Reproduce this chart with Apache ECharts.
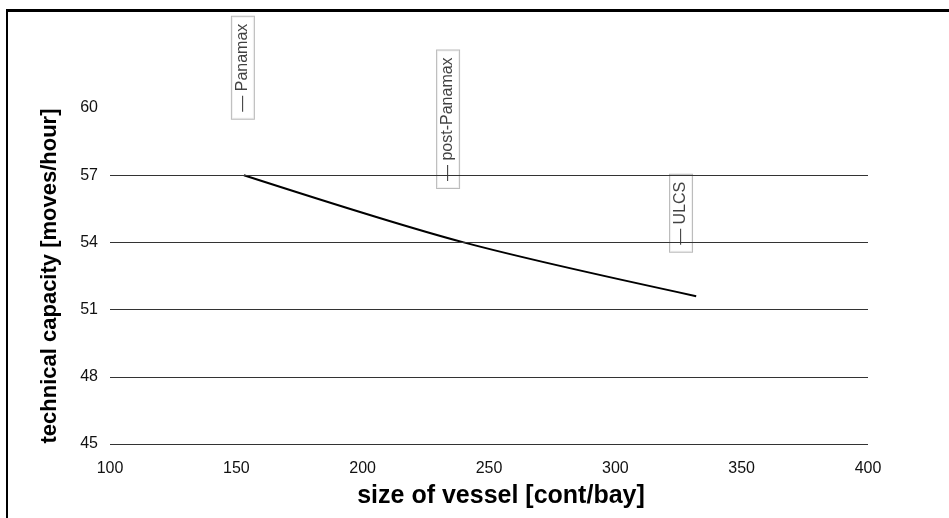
<!DOCTYPE html>
<html>
<head>
    <meta charset="utf-8">
    <title>technical capacity</title>
    <script src="https://cdn.jsdelivr.net/npm/echarts@6/dist/echarts.min.js"></script>
    <style>
        html, body { margin: 0; padding: 0; background: #fff; }
        #frame { position: absolute; left: 6px; top: 9px; width: 943px; height: 509px;
                 border-top: 3px solid #000; border-left: 2px solid #000; box-sizing: border-box; }
        #chart { position: absolute; left: 0; top: 0; width: 949px; height: 518px; }
    </style>
</head>
<body>
<div id="frame"></div>
<div id="chart"></div>
<script>
    // 数据: vessel size [cont/bay] vs technical capacity [moves/hour]
    var vesselSize = [153, 240, 332];
    var capacity = [57, 54, 51.6];
    var gridValues = [45, 48, 51, 54, 57];
    var classNames = ['Panamax', 'post-Panamax', 'ULCS'];
    var labelX = [152.6, 233.8, 326];
    var labelY = [61.8, 59.5, 55.3];

    var lineData = vesselSize.map(function (v, i) { return [v, capacity[i]]; });
    var labelData = classNames.map(function (n, i) { return { name: n, value: [labelX[i], labelY[i]] }; });

    var myChart = echarts.init(document.getElementById('chart'));
    myChart.setOption({
        animation: false,
        grid: { left: 110, right: 81, top: 108, bottom: 74 },
        xAxis: {
            type: 'value',
            min: 100, max: 400, interval: 50,
            name: 'size of vessel [cont/bay]',
            nameLocation: 'middle',
            nameGap: 40,
            nameTextStyle: { fontFamily: 'Liberation Sans', fontSize: 25, fontWeight: 'bold', color: '#000',
                             padding: [0, 0, 0, 24] },
            axisLine: { show: false },
            axisTick: { show: false },
            splitLine: { show: false },
            axisLabel: { fontFamily: 'Liberation Sans', fontSize: 16, color: '#111', margin: 17 }
        },
        yAxis: {
            type: 'value',
            min: 45, max: 60, interval: 3,
            name: 'technical capacity [moves/hour]',
            nameLocation: 'middle',
            nameGap: 49,
            nameTextStyle: { fontFamily: 'Liberation Sans', fontSize: 22, fontWeight: 'bold', color: '#000' },
            axisLine: { show: false },
            axisTick: { show: false },
            splitLine: { show: false },
            axisLabel: { fontFamily: 'Liberation Sans', fontSize: 16, color: '#111', margin: 12 }
        },
        series: [{
            type: 'line',
            data: lineData,
            smooth: 0.3,
            symbol: 'none',
            lineStyle: { color: '#000', width: 2 },
            z: 3,
            markLine: {
                silent: true,
                symbol: 'none',
                label: { show: false },
                lineStyle: { color: '#333', width: 1, type: 'solid' },
                data: gridValues.map(function (v) { return { yAxis: v }; })
            }
        }, {
            type: 'scatter',
            data: labelData,
            symbolSize: 0,
            clip: false,
            silent: true,
            label: {
                show: true,
                position: 'inside',
                rotate: 90,
                formatter: '— {b}',
                fontFamily: 'Liberation Sans',
                fontSize: 16,
                color: '#111',
                backgroundColor: '#fff',
                borderColor: '#aaa',
                borderWidth: 1,
                padding: [3, 7]
            }
        }]
    });
</script>
</body>
</html>
